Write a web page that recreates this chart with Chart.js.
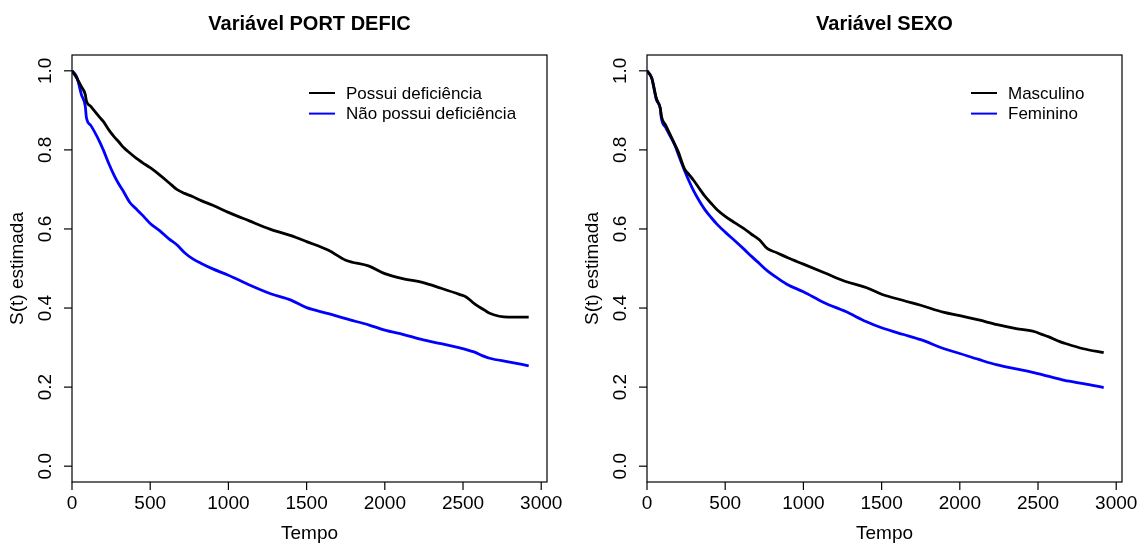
<!DOCTYPE html>
<html>
<head>
<meta charset="utf-8">
<title>Curvas de sobrevivência</title>
<script src="https://cdn.jsdelivr.net/npm/chart.js@4/dist/chart.umd.min.js"></script>
<style>
    html, body { margin: 0; padding: 0; background: #ffffff; }
    #wrap { position: relative; width: 1139px; height: 545px; overflow: hidden; }
    canvas { position: absolute; top: 0; }
    #painel-defic { left: 0; }
    #painel-sexo { left: 570px; }
</style>
</head>
<body>
<div id="wrap">
    <canvas id="painel-defic" width="570" height="545"></canvas>
    <canvas id="painel-sexo" width="569" height="545"></canvas>
</div>
<script>
// Tempos em que as curvas de Kaplan-Meier foram lidas
const tempo = [0, 30, 60, 85, 92, 120, 180, 200, 240, 270, 300, 330, 370, 410, 450, 500, 560,
    620, 670, 720, 770, 830, 900, 1000, 1130, 1270, 1400, 1500, 1640, 1750, 1900, 2000, 2120,
    2240, 2360, 2480, 2520, 2570, 2640, 2670, 2790, 2920];

// Variável PORT DEFIC
const sPossui = [1.0, 0.982, 0.96, 0.94, 0.924, 0.91, 0.881, 0.872, 0.848, 0.833, 0.82, 0.806,
    0.792, 0.779, 0.768, 0.755, 0.737, 0.717, 0.700, 0.690, 0.682, 0.671, 0.660, 0.642, 0.621,
    0.599, 0.583, 0.568, 0.546, 0.521, 0.506, 0.487, 0.474, 0.465, 0.450, 0.434, 0.428, 0.412,
    0.394, 0.387, 0.377, 0.377];
const sNaoPossui = [1.0, 0.985, 0.94, 0.91, 0.882, 0.862, 0.818, 0.800, 0.761, 0.735, 0.713,
    0.694, 0.667, 0.651, 0.635, 0.614, 0.596, 0.575, 0.560, 0.540, 0.525, 0.512, 0.499, 0.483,
    0.459, 0.436, 0.420, 0.401, 0.386, 0.373, 0.357, 0.344, 0.333, 0.320, 0.310, 0.299, 0.295,
    0.289, 0.277, 0.273, 0.264, 0.254];

// Variável SEXO
const sMasculino = [1.0, 0.982, 0.93, 0.905, 0.885, 0.862, 0.812, 0.795, 0.752, 0.737, 0.722,
    0.705, 0.683, 0.665, 0.648, 0.632, 0.616, 0.601, 0.586, 0.572, 0.550, 0.540, 0.527, 0.511,
    0.490, 0.467, 0.452, 0.435, 0.419, 0.407, 0.389, 0.381, 0.370, 0.358, 0.348, 0.340, 0.334,
    0.327, 0.315, 0.311, 0.297, 0.287];
const sFeminino = [1.0, 0.982, 0.927, 0.905, 0.880, 0.856, 0.810, 0.789, 0.748, 0.720, 0.695,
    0.674, 0.649, 0.629, 0.611, 0.592, 0.571, 0.549, 0.530, 0.512, 0.494, 0.477, 0.459, 0.441,
    0.414, 0.391, 0.366, 0.350, 0.333, 0.320, 0.297, 0.285, 0.270, 0.256, 0.246, 0.236, 0.232,
    0.227, 0.220, 0.217, 0.209, 0.199];

const xTicks = [0, 500, 1000, 1500, 2000, 2500, 3000];
const yTicks = [0.0, 0.2, 0.4, 0.6, 0.8, 1.0];

const FONTE = '"Liberation Sans", Arial, Helvetica, sans-serif';

// Eixos no estilo do R: caixa, marcas e rótulos desenhados por cima do gráfico
const eixosR = {
    id: 'eixosR',
    afterDraw(chart, args, opts) {
        const ctx = chart.ctx;
        const area = chart.chartArea;
        const sx = chart.scales.x;
        const sy = chart.scales.y;

        ctx.save();
        ctx.strokeStyle = '#000';
        ctx.fillStyle = '#000';
        ctx.lineWidth = 1.2;
        ctx.strokeRect(area.left, area.top, area.right - area.left, area.bottom - area.top);

        // marcas do eixo x
        ctx.font = '19px ' + FONTE;
        ctx.textAlign = 'center';
        ctx.textBaseline = 'middle';
        xTicks.forEach(v => {
            const px = sx.getPixelForValue(v);
            ctx.beginPath();
            ctx.moveTo(px, area.bottom);
            ctx.lineTo(px, area.bottom + 8);
            ctx.stroke();
            ctx.fillText(String(v), px, area.bottom + 22);
        });

        // marcas do eixo y, rótulos girados
        yTicks.forEach(v => {
            const py = sy.getPixelForValue(v);
            ctx.beginPath();
            ctx.moveTo(area.left, py);
            ctx.lineTo(area.left - 8, py);
            ctx.stroke();
            ctx.save();
            ctx.translate(area.left - 26, py);
            ctx.rotate(-Math.PI / 2);
            ctx.fillText(v.toFixed(1), 0, 0);
            ctx.restore();
        });

        const cx = (area.left + area.right) / 2;
        const cy = (area.top + area.bottom) / 2;

        // títulos dos eixos
        ctx.fillText('Tempo', cx, 534);
        ctx.save();
        ctx.translate(area.left - 54, cy);
        ctx.rotate(-Math.PI / 2);
        ctx.fillText('S(t) estimada', 0, 0);
        ctx.restore();

        // título do painel
        ctx.font = 'bold 20px ' + FONTE;
        ctx.fillText(opts.titulo, cx, 24);

        // legenda sem moldura
        ctx.font = '17px ' + FONTE;
        ctx.textAlign = 'left';
        chart.data.datasets.forEach((ds, i) => {
            const ly = 93 + i * 20.6;
            ctx.strokeStyle = ds.borderColor;
            ctx.lineWidth = 2;
            ctx.beginPath();
            ctx.moveTo(opts.legendaX, ly);
            ctx.lineTo(opts.legendaX + 26, ly);
            ctx.stroke();
            ctx.fillText(ds.label, opts.legendaX + 37, ly + 1);
        });
        ctx.restore();
    }
};

function montarPontos(valores) {
    return tempo.map((t, i) => ({ x: t, y: valores[i] }));
}

function criarPainel(id, titulo, series, padding, legendaX) {
    const ctx = document.getElementById(id).getContext('2d');
    return new Chart(ctx, {
        type: 'line',
        data: {
            datasets: series.map(s => ({
                label: s.label,
                data: montarPontos(s.valores),
                borderColor: s.cor,
                borderWidth: 2.8,
                pointRadius: 0,
                cubicInterpolationMode: 'monotone',
                fill: false
            }))
        },
        options: {
            responsive: false,
            animation: false,
            devicePixelRatio: 1,
            layout: { padding: padding },
            plugins: {
                legend: { display: false },
                tooltip: { enabled: false },
                title: { display: false },
                eixosR: { titulo: titulo, legendaX: legendaX }
            },
            scales: {
                x: { type: 'linear', min: 0, max: 3037, display: false },
                y: { type: 'linear', min: -0.04, max: 1.04, display: false }
            }
        },
        plugins: [eixosR]
    });
}

criarPainel('painel-defic', 'Variável PORT DEFIC', [
    { label: 'Possui deficiência', valores: sPossui, cor: '#000000' },
    { label: 'Não possui deficiência', valores: sNaoPossui, cor: '#0000ff' }
], { left: 72, right: 23, top: 55, bottom: 63 }, 309);

criarPainel('painel-sexo', 'Variável SEXO', [
    { label: 'Masculino', valores: sMasculino, cor: '#000000' },
    { label: 'Feminino', valores: sFeminino, cor: '#0000ff' }
], { left: 77, right: 17, top: 55, bottom: 63 }, 401);
</script>
</body>
</html>
